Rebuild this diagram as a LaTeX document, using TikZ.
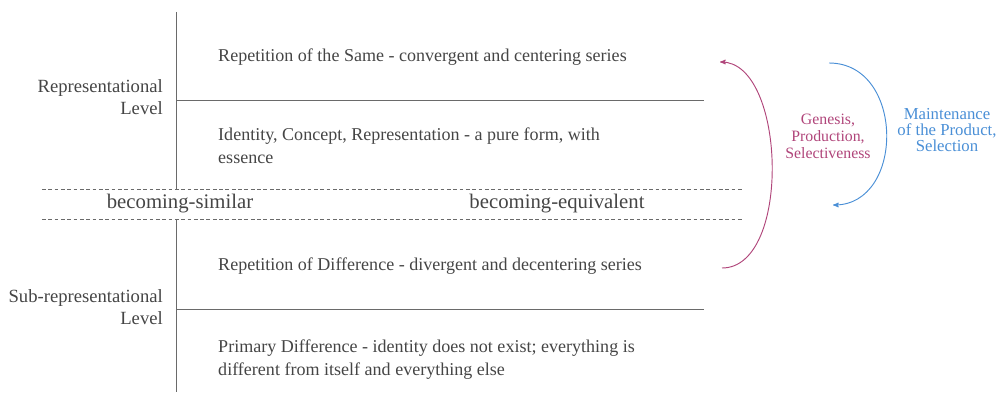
\documentclass[tikz,border=0pt]{standalone}
\usepackage{fontspec}
\setmainfont{Liberation Serif}
\usepackage{tikz}
\usetikzlibrary{arrows,positioning}

\definecolor{txtgray}{HTML}{454545}
\definecolor{linegray}{HTML}{6A6A6A}
\definecolor{genesiscol}{HTML}{B0457A}
\definecolor{maintcol}{HTML}{4A8FD6}

\begin{document}
\begin{tikzpicture}[x=0.03cm,y=-0.03cm]%
                    \useasboundingbox (0,0) rectangle (1000,394);
                    \tikzstyle{every node}=[text=txtgray,inner sep=0pt,font=\fontsize{15.4}{19.5}\selectfont];%%
                    \tikzstyle{rule}=[draw=linegray,line width=.8pt];%%
                    \tikzstyle{dashrule}=[draw=linegray,line width=.6pt,dash pattern=on 3.2pt off 2.2pt];%%
                    \tikzstyle{row}=[anchor=west,align=left];%%
                    \tikzstyle{level}=[anchor=east,align=right,font=\fontsize{15.9}{18.7}\selectfont];%%
                    \tikzstyle{becoming}=[font=\fontsize{17.7}{20}\selectfont];%%
                    \tikzstyle{side}=[align=center];%%
                    % axis and rules
                    \coordinate (axtop) at (176,12); %%
                    \coordinate (axmid1) at (176,189); %%
                    \coordinate (axmid2) at (176,219); %%
                    \coordinate (axbot) at (176,392); %%
                    \draw[rule] (axtop)--(axmid1); %%
                    \draw[rule] (axmid2)--(axbot); %%
                    \draw[rule] (176,100)--(704,100); %%
                    \draw[rule] (176,309)--(704,309); %%
                    \draw[dashrule] (42,189)--(742,189); %%
                    \draw[dashrule] (42,219)--(742,219); %%
                    % levels
                    \node[level] (replev) at (163,97) {Representational\\Level}; %%
                    \node[level] (sublev) at (163,307) {Sub-representational\\Level}; %%
                    % rows
                    \node[row] (same) at (218,57) {Repetition of the Same - convergent and centering series}; %%
                    \node[row] (ident) at (218,145.5) {Identity, Concept, Representation - a pure form, with\\essence}; %%
                    \node[becoming] (simil) at (180,204) {becoming-similar}; %%
                    \node[becoming] (equiv) at (557,204) {becoming-equivalent}; %%
                    \node[row] (diff) at (218,266) {Repetition of Difference - divergent and decentering series}; %%
                    \node[row] (prim) at (218,360) {Primary Difference - identity does not exist; everything is\\different from itself and everything else}; %%
                    % side arrows
                    \coordinate (genlow) at (722,268); %%
                    \coordinate (genup) at (720,62); %%
                    \coordinate (mntup) at (829,63); %%
                    \coordinate (mntlow) at (833,205); %%
                    \draw[genesiscol,line width=.8pt,->,>=stealth'] (genlow) .. controls (792,268) and (786,62) .. (genup); %%
                    \draw[maintcol,line width=.8pt,->,>=stealth'] (mntup) .. controls (905,63) and (905,205) .. (mntlow); %%
                    \node[side,text=genesiscol,font=\fontsize{13.5}{14.6}\selectfont] (gentxt) at (828,136) {Genesis,\\Production,\\Selectiveness}; %%
                    \node[side,text=maintcol,font=\fontsize{14.3}{13.8}\selectfont] (mnttxt) at (947,130) {Maintenance\\of the Product,\\Selection}; %%
\end{tikzpicture}
\end{document}
